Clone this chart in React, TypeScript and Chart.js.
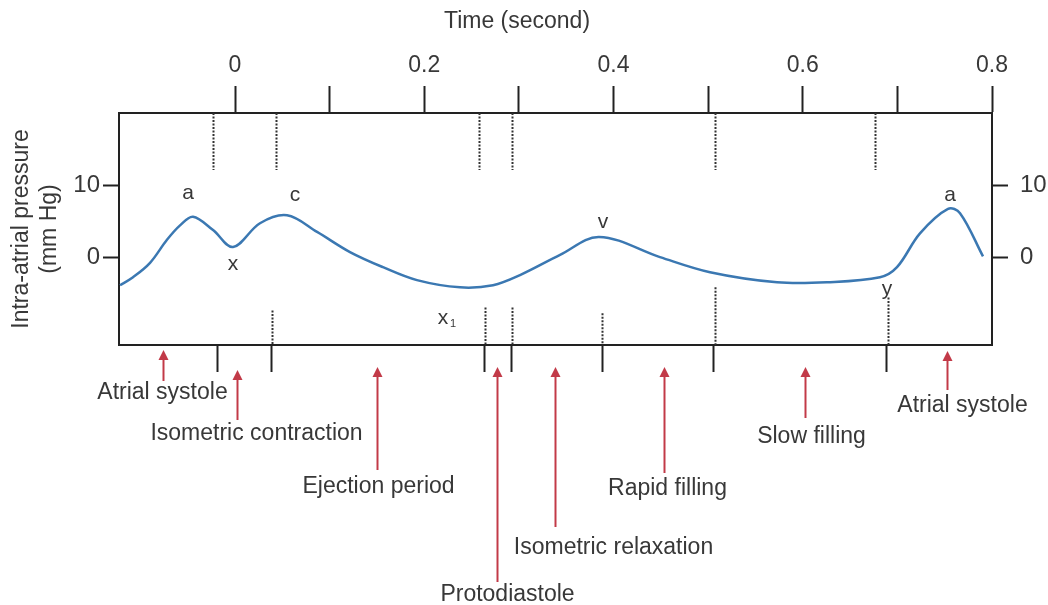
import React, { useEffect, useRef } from 'react';
import { Chart, registerables } from 'chart.js';

Chart.register(...registerables);

// ---------- data ----------
const timeTicks = [0, 0.1, 0.2, 0.3, 0.4, 0.5, 0.6, 0.7, 0.8];
const pressureTicks = [0, 10];
const phaseBoundaryTicks = [-0.019, 0.039, 0.264, 0.292, 0.388, 0.506, 0.688];
const topMarkerTimes = [-0.023, 0.043, 0.258, 0.293, 0.507, 0.676];
const topMarkerLow = 12.1;
const bottomMarkerTimes = [0.039, 0.264, 0.293, 0.388, 0.507, 0.69];
const bottomMarkerHigh = [-7.4, -7.0, -7.0, -7.8, -4.2, -5.6];

const curveTime = [
  -0.1215, -0.1078, -0.0898, -0.0719, -0.0581, -0.0444, -0.0232, -0.0021, 0.0264, 0.055,
  0.0867, 0.1215, 0.1564, 0.1923, 0.2378, 0.2727, 0.3012, 0.3435, 0.3847, 0.4491,
  0.502, 0.5728, 0.6256, 0.6816, 0.6996, 0.7239, 0.7535, 0.7662, 0.7905,
];
const curvePressure = [
  -3.9, -2.8, -0.8, 2.4, 4.4, 5.6, 3.75, 1.4, 4.7, 5.8,
  3.5, 0.7, -1.4, -3.2, -4.2, -3.9, -2.5, 0.3, 2.8, 0,
  -2.1, -3.5, -3.5, -2.8, -1.4, 3.3, 6.7, 6.1, 0.1,
];

const waveNames = ['a', 'x', 'c', 'x', 'v', 'y', 'a'];
const waveSub = ['', '', '', '1', '', '', ''];
const waveTime = [-0.0497, -0.0021, 0.0634, 0.2198, 0.3889, 0.689, 0.7556];
const wavePressure = [8.9, -1.0, 8.6, -8.5, 4.9, -4.4, 8.6];

const phaseNames = [
  'Atrial systole',
  'Isometric contraction',
  'Ejection period',
  'Protodiastole',
  'Isometric relaxation',
  'Rapid filling',
  'Slow filling',
  'Atrial systole',
];
const phaseArrowTime = [-0.0761, 0.0021, 0.15, 0.2769, 0.3382, 0.4534, 0.6024, 0.7524];

// ---------- layout (pixels) ----------
const phaseHeadY = [350, 370, 367, 367, 367, 367, 367, 351];
const phaseTailY = [381, 420, 470, 582, 527, 473, 418, 390];
const phaseLabelDx = [-1, 19, 1, 10, 58, 3, 6, 15];
const phaseLabelY = [393, 434, 487, 595, 548, 489, 437, 406];

const FONT = '"Liberation Sans", Arial, Helvetica, sans-serif';
const TEXT = '#383838';
const AXIS = '#222222';
const ARROW = '#c23a48';

const overlay = {
  id: 'overlay',
  afterDraw(chart: any) {
    const { ctx } = chart;
    const xs = chart.scales.x;
    const ys = chart.scales.y;
    ctx.save();

    // dashed phase markers inside plot
    ctx.strokeStyle = '#333';
    ctx.lineWidth = 2;
    ctx.setLineDash([2, 1.5]);
    topMarkerTimes.forEach((t) => {
      const px = Math.round(xs.getPixelForValue(t)) + 0.5;
      ctx.beginPath();
      ctx.moveTo(px, ys.getPixelForValue(ys.max));
      ctx.lineTo(px, ys.getPixelForValue(topMarkerLow));
      ctx.stroke();
    });
    bottomMarkerTimes.forEach((t, i) => {
      const px = Math.round(xs.getPixelForValue(t)) + 0.5;
      ctx.beginPath();
      ctx.moveTo(px, ys.getPixelForValue(bottomMarkerHigh[i]));
      ctx.lineTo(px, ys.getPixelForValue(ys.min));
      ctx.stroke();
    });
    ctx.setLineDash([]);

    // wave letters
    ctx.fillStyle = TEXT;
    ctx.textAlign = 'center';
    ctx.textBaseline = 'middle';
    waveNames.forEach((n, i) => {
      const px = xs.getPixelForValue(waveTime[i]);
      const py = ys.getPixelForValue(wavePressure[i]);
      ctx.font = `21px ${FONT}`;
      ctx.fillText(n, px, py);
      if (waveSub[i]) {
        ctx.font = `11px ${FONT}`;
        ctx.fillText(waveSub[i], px + 10, py + 6);
      }
    });

    // phase arrows and labels
    phaseNames.forEach((name, i) => {
      const px = Math.round(xs.getPixelForValue(phaseArrowTime[i])) + 0.5;
      const head = phaseHeadY[i];
      const tail = phaseTailY[i];
      ctx.strokeStyle = ARROW;
      ctx.fillStyle = ARROW;
      ctx.lineWidth = 2;
      ctx.beginPath();
      ctx.moveTo(px, tail);
      ctx.lineTo(px, head + 8);
      ctx.stroke();
      ctx.beginPath();
      ctx.moveTo(px, head);
      ctx.lineTo(px - 5, head + 10);
      ctx.lineTo(px + 5, head + 10);
      ctx.closePath();
      ctx.fill();

      ctx.fillStyle = TEXT;
      ctx.font = `23px ${FONT}`;
      ctx.textAlign = 'center';
      ctx.textBaseline = 'middle';
      ctx.fillText(name, px + phaseLabelDx[i], phaseLabelY[i]);
    });

    // top axis title
    ctx.fillStyle = TEXT;
    ctx.font = `23px ${FONT}`;
    ctx.textAlign = 'center';
    ctx.textBaseline = 'middle';
    ctx.fillText('Time (second)', 517, 22);

    ctx.restore();
  },
};

export default function App() {
  const ref = useRef<HTMLCanvasElement | null>(null);

  useEffect(() => {
    if (!ref.current) return;
    const grid = (tickLength: number) => ({
      display: true,
      drawOnChartArea: false,
      drawTicks: true,
      tickLength,
      tickWidth: 2,
      tickColor: AXIS,
      color: AXIS,
    });
    const border = { display: true, color: AXIS, width: 2 };

    const chart = new Chart(ref.current, {
      type: 'line',
      data: {
        datasets: [
          {
            label: 'Intra-atrial pressure',
            data: curveTime.map((t, i) => ({ x: t, y: curvePressure[i] })),
            borderColor: '#3b78b2',
            borderWidth: 2.5,
            pointRadius: 0,
            fill: false,
            tension: 0.35,
            xAxisID: 'x',
            yAxisID: 'y',
          },
        ],
      },
      options: {
        responsive: false,
        animation: false,
        events: [],
        layout: { padding: 0 },
        plugins: { legend: { display: false }, tooltip: { enabled: false }, title: { display: false } },
        scales: {
          x: {
            type: 'linear',
            position: 'bottom',
            min: -0.1226,
            max: 0.8,
            grid: grid(27),
            border,
            ticks: { display: false },
            afterBuildTicks: (s: any) => {
              s.ticks = phaseBoundaryTicks.map((v) => ({ value: v }));
            },
            afterFit: (s: any) => {
              s.height = 260;
            },
          },
          x2: {
            type: 'linear',
            axis: 'x',
            position: 'top',
            min: -0.1226,
            max: 0.8,
            grid: grid(27),
            border,
            ticks: {
              color: TEXT,
              font: { size: 23, family: FONT },
              padding: 7,
              maxRotation: 0,
              autoSkip: false,
              callback: (v: any) => {
                const k = Math.round(Number(v) * 10);
                return k % 2 === 0 ? String(k / 10) : '';
              },
            },
            afterBuildTicks: (s: any) => {
              s.ticks = timeTicks.map((v) => ({ value: v }));
            },
            afterFit: (s: any) => {
              s.height = 113;
            },
          },
          y: {
            type: 'linear',
            position: 'left',
            min: -12.2,
            max: 20,
            grid: grid(16),
            border,
            ticks: { color: TEXT, font: { size: 24, family: FONT }, padding: 3 },
            afterBuildTicks: (s: any) => {
              s.ticks = pressureTicks.map((v) => ({ value: v }));
            },
            title: {
              display: true,
              text: ['Intra-atrial pressure', '(mm Hg)'],
              color: TEXT,
              font: { size: 23, family: FONT, lineHeight: 1.25 },
              padding: { top: 7, bottom: 0 },
            },
            afterFit: (s: any) => {
              s.width = 119;
            },
          },
          y2: {
            type: 'linear',
            axis: 'y',
            position: 'right',
            min: -12.2,
            max: 20,
            grid: grid(16),
            border,
            ticks: { color: TEXT, font: { size: 24, family: FONT }, padding: 12 },
            afterBuildTicks: (s: any) => {
              s.ticks = pressureTicks.map((v) => ({ value: v }));
            },
            afterFit: (s: any) => {
              s.width = 56;
            },
          },
        },
      } as any,
      plugins: [overlay],
    });
    return () => chart.destroy();
  }, []);

  return (
    <div style={{ position: 'fixed', left: 0, top: 0, width: 1048, height: 605, background: '#fff' }}>
      <canvas ref={ref} width={1048} height={605} style={{ display: 'block' }} />
    </div>
  );
}
